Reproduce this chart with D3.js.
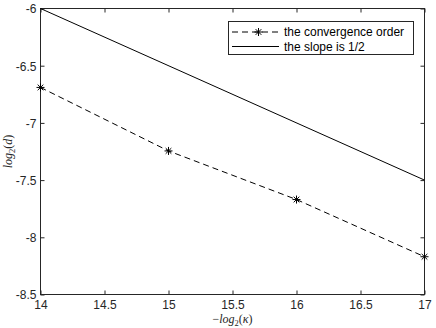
<!DOCTYPE html>
<html><head><meta charset="utf-8">
<script src="https://cdn.jsdelivr.net/npm/d3@7"></script>
<style>body{margin:0;background:#fff}svg{display:block}</style>
</head><body>
<svg id="c" width="436" height="328"></svg>
<script>
const xValues = [14, 15, 16, 17];
const convergence = [-6.69, -7.245, -7.67, -8.17];
const slopeX = [14, 17];
const slopeY = [-6, -7.5];
const xTicks = [14, 14.5, 15, 15.5, 16, 16.5, 17];
const yTicks = [-8.5, -8, -7.5, -7, -6.5, -6];
const legendLabels = ["the convergence order", "the slope is 1/2"];

const svg = d3.select("#c");
const L = 40.5, R = 424.5, T = 8.5, B = 294.5;
const x = d3.scaleLinear().domain([14, 17]).range([L, R]);
const y = d3.scaleLinear().domain([-8.5, -6]).range([B, T]);
const col = "#262626";
const font = "'Liberation Sans', Arial, sans-serif";
const serif = "'Liberation Serif', 'Times New Roman', serif";

// frame
svg.append("rect").attr("x", L).attr("y", T).attr("width", R - L).attr("height", B - T)
  .attr("fill", "none").attr("stroke", col).attr("stroke-width", 1);

const fmt = d => String(d);
const xb = svg.append("g").attr("transform", `translate(0,${B})`)
  .call(d3.axisBottom(x).tickValues(xTicks).tickFormat(fmt).tickSize(-4).tickPadding(7));
const xt = svg.append("g").attr("transform", `translate(0,${T})`)
  .call(d3.axisTop(x).tickValues(xTicks).tickFormat("").tickSize(-4));
const yl = svg.append("g").attr("transform", `translate(${L},0)`)
  .call(d3.axisLeft(y).tickValues(yTicks).tickFormat(fmt).tickSize(-4).tickPadding(4));
const yr = svg.append("g").attr("transform", `translate(${R},0)`)
  .call(d3.axisRight(y).tickValues(yTicks).tickFormat("").tickSize(-4));
[xb, xt, yl, yr].forEach(g => {
  g.select(".domain").remove();
  g.selectAll("line").attr("stroke", col);
  g.selectAll("text").attr("fill", col).style("font-family", font).style("font-size", "12px");
});
yl.selectAll("text").attr("dy", "0.36em");
xb.selectAll("text").attr("dy", "0.6em");

// slope line
const line = d3.line().x(d => x(d[0])).y(d => y(d[1]));
svg.append("path").datum(slopeX.map((v, i) => [v, slopeY[i]]))
  .attr("d", line).attr("fill", "none").attr("stroke", "#000").attr("stroke-width", 1);

// convergence dashed line
svg.append("path").datum(xValues.map((v, i) => [v, convergence[i]]))
  .attr("d", line).attr("fill", "none").attr("stroke", "#000").attr("stroke-width", 1)
  .attr("stroke-dasharray", "6,4");

function star(g, cx, cy) {
  const r = 4;
  const p = [];
  for (let k = 0; k < 4; k++) {
    const a = k * Math.PI / 4;
    p.push(`M${cx - r * Math.cos(a)},${cy - r * Math.sin(a)}L${cx + r * Math.cos(a)},${cy + r * Math.sin(a)}`);
  }
  g.append("path").attr("d", p.join("")).attr("stroke", "#000").attr("stroke-width", 1).attr("fill", "none");
}
xValues.forEach((v, i) => star(svg, x(v), y(convergence[i])));

// legend
const lg = svg.append("g");
lg.append("rect").attr("x", 228.5).attr("y", 21.5).attr("width", 185).attr("height", 33)
  .attr("fill", "#fff").attr("stroke", col).attr("stroke-width", 1);
lg.append("line").attr("x1", 232).attr("x2", 279).attr("y1", 32).attr("y2", 32)
  .attr("stroke", "#000").attr("stroke-dasharray", "6,4");
star(lg, 258.5, 32);
lg.append("line").attr("x1", 232).attr("x2", 279).attr("y1", 46.5).attr("y2", 46.5)
  .attr("stroke", "#000");
legendLabels.forEach((t, i) => {
  lg.append("text").attr("x", 284).attr("y", 32 + i * 14.5).attr("dy", "0.36em")
    .style("font-family", font).style("font-size", "12px").attr("fill", "#000").text(t);
});

// axis labels
const xl = svg.append("text").attr("x", (L + R) / 2).attr("y", 323).attr("text-anchor", "middle")
  .style("font-family", serif).style("font-size", "12px").attr("fill", col);
xl.append("tspan").text("\u2212");
xl.append("tspan").style("font-style", "italic").text("log");
xl.append("tspan").attr("dy", 2.5).style("font-size", "8.5px").text("2");
xl.append("tspan").attr("dy", -2.5).text("(");
xl.append("tspan").style("font-style", "italic").text("\u03BA");
xl.append("tspan").text(")");

const ylab = svg.append("text").attr("transform", `translate(12,${(T + B) / 2}) rotate(-90)`)
  .attr("text-anchor", "middle")
  .style("font-family", serif).style("font-size", "12px").attr("fill", col);
ylab.append("tspan").style("font-style", "italic").text("log");
ylab.append("tspan").attr("dy", 2.5).style("font-size", "8.5px").text("2");
ylab.append("tspan").attr("dy", -2.5).text("(");
ylab.append("tspan").style("font-style", "italic").text("d");
ylab.append("tspan").text(")");
</script>
</body></html>
